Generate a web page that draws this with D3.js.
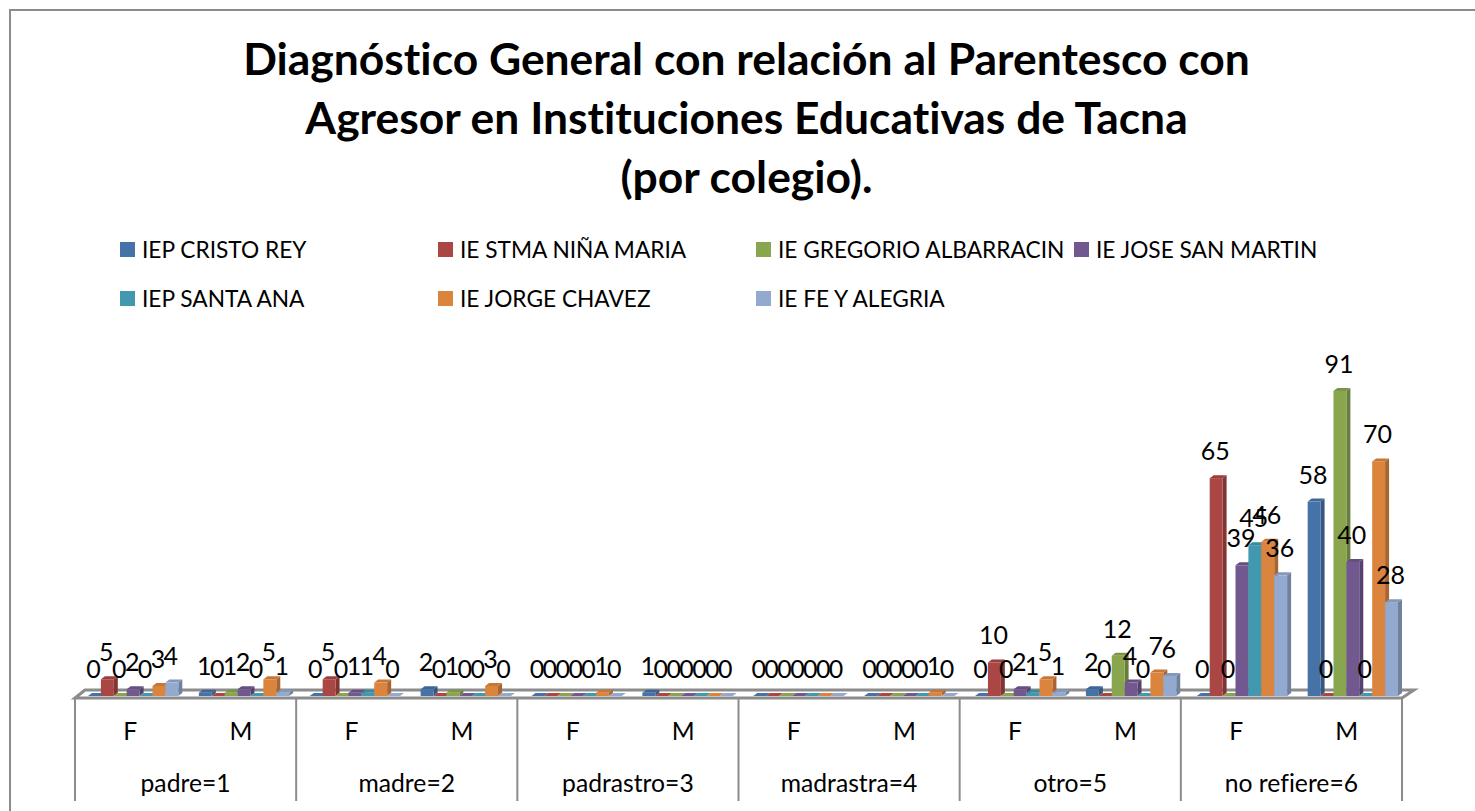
<!DOCTYPE html>
<html>
<head>
<meta charset="utf-8">
<script src="https://cdn.jsdelivr.net/npm/d3@7"></script>
<style>
  html, body { margin: 0; padding: 0; background: #fff; }
  text { font-family: Lato, Arial, sans-serif; fill: #000; font-variant-ligatures: none; }
</style>
</head>
<body>
<div id="chart"></div>
<script>
// ── Data
const titleLines = [
  'Diagnóstico General con relación al Parentesco con',
  'Agresor en Instituciones Educativas de Tacna',
  '(por colegio).'
];
const groups = ['padre=1', 'madre=2', 'padrastro=3', 'madrastra=4', 'otro=5', 'no refiere=6'];
const sexes = ['F', 'M'];
const schools = ['IEP CRISTO REY', 'IE STMA NIÑA MARIA', 'IE GREGORIO ALBARRACIN', 'IE JOSE SAN MARTIN',
                 'IEP SANTA ANA', 'IE JORGE CHAVEZ', 'IE FE Y ALEGRIA'];
const colors = ['#4572A7', '#AA4643', '#89A54E', '#71588F', '#4198AF', '#DB843D', '#93A9CF'];

const cristoRey   = [0, 1, 0, 2, 0, 1, 0, 0, 0, 2, 0, 58];
const ninaMaria   = [5, 0, 5, 0, 0, 0, 0, 0, 10, 0, 65, 0];
const albarracin  = [0, 1, 0, 1, 0, 0, 0, 0, 0, 12, 0, 91];
const sanMartin   = [2, 2, 1, 0, 0, 0, 0, 0, 2, 4, 39, 40];
const santaAna    = [0, 0, 1, 0, 0, 0, 0, 0, 1, 0, 45, 0];
const jorgeChavez = [3, 5, 4, 3, 1, 0, 0, 1, 5, 7, 46, 70];
const feYAlegria  = [4, 1, 0, 0, 0, 0, 0, 0, 1, 6, 36, 28];
const seriesValues = [cristoRey, ninaMaria, albarracin, sanMartin, santaAna, jorgeChavez, feYAlegria];

// ── Layout constants (1475×811 canvas)
const W = 1475, H = 811;
const AXIS_L = 75, AXIS_R = 1402;
const FLOOR_Y = 698, FLOOR_BACK_Y = 690;
const BASE_Y = 696;
const DEPTH_X = 4, DEPTH_Y = 3;
const GRAY = '#8c8c8c';

const categories = groups.flatMap(g => sexes.map(s => `${g}|${s}`));

// Axis table cells and bar slots run on slightly different steps in the original
const xAxis = d3.scaleBand().domain(categories).range([AXIS_L, AXIS_R]);
const xGroup = d3.scaleBand().domain(groups).range([AXIS_L, AXIS_R]);
const xCat = d3.scaleBand().domain(categories).range([71.5, 71.5 + 110.88 * 12]);
const xBar = d3.scaleBand().domain(d3.range(schools.length)).range([16.5, 16.5 + 90.3]);
const y = d3.scaleLinear().domain([0, 91]).range([BASE_Y, 391]);

const svg = d3.select('#chart').append('svg')
  .attr('width', W).attr('height', H)
  .style('display', 'block');

// ── Outer frame (the crop cuts off its right and bottom sides)
svg.append('path')
  .attr('d', `M10,${H}V10H${W}`)
  .attr('fill', 'none')
  .attr('stroke', GRAY)
  .attr('stroke-width', 2);

// ── Title
svg.append('g').selectAll('text')
  .data(titleLines)
  .enter().append('text')
  .attr('x', 746.5)
  .attr('y', (d, i) => 75 + i * 59)
  .attr('text-anchor', 'middle')
  .attr('font-size', '44.4px')
  .attr('font-weight', 700)
  .text(d => d);

// ── Legend
const legend = svg.append('g').selectAll('g')
  .data(schools)
  .enter().append('g')
  .attr('transform', (d, i) => `translate(${120 + (i % 4) * 318},${242 + Math.floor(i / 4) * 49})`);
legend.append('rect')
  .attr('width', 15).attr('height', 15)
  .attr('fill', (d, i) => colors[i]);
legend.append('text')
  .attr('x', 22).attr('y', 16)
  .attr('font-size', '22.7px')
  .text(d => d);

// ── Floor
svg.append('path')
  .attr('d', `M${AXIS_L},${FLOOR_Y}L85,${FLOOR_BACK_Y}H1414L${AXIS_R},${FLOOR_Y}Z`)
  .attr('fill', '#fff')
  .attr('stroke', GRAY)
  .attr('stroke-width', 3);

// ── Axis table
const table = svg.append('g');
table.selectAll('line')
  .data(d3.range(groups.length + 1))
  .enter().append('line')
  .attr('x1', i => AXIS_L + i * xGroup.step()).attr('x2', i => AXIS_L + i * xGroup.step())
  .attr('y1', FLOOR_Y).attr('y2', 801)
  .attr('stroke', GRAY)
  .attr('stroke-width', 2);
table.selectAll('.sex')
  .data(categories)
  .enter().append('text')
  .attr('class', 'sex')
  .attr('x', d => xAxis(d) + xAxis.bandwidth() / 2)
  .attr('y', 740)
  .attr('text-anchor', 'middle')
  .attr('font-size', '24.7px')
  .text(d => d.split('|')[1]);
table.selectAll('.group')
  .data(groups)
  .enter().append('text')
  .attr('class', 'group')
  .attr('x', d => xGroup(d) + xGroup.bandwidth() / 2)
  .attr('y', 792)
  .attr('text-anchor', 'middle')
  .attr('font-size', '24.7px')
  .text(d => d);

// ── 3D bars, left to right
const marks = [];
categories.forEach((c, ci) => {
  seriesValues.forEach((vals, si) => marks.push({ c, si, v: vals[ci] }));
});

const bars = svg.append('g').selectAll('g')
  .data(marks)
  .enter().append('g')
  .attr('transform', d => `translate(${xCat(d.c) + xBar(d.si)},0)`);

const bw = xBar.bandwidth();

// side face
bars.append('path')
  .attr('d', d => `M${bw},${y(d.v)}l${DEPTH_X},${-DEPTH_Y}V${BASE_Y - DEPTH_Y}l${-DEPTH_X},${DEPTH_Y}Z`)
  .attr('fill', d => d3.color(colors[d.si]).darker(0.75));
// top face
bars.append('path')
  .attr('d', d => `M0,${y(d.v)}l${DEPTH_X},${-DEPTH_Y}h${bw}l${-DEPTH_X},${DEPTH_Y}Z`)
  .attr('fill', d => d3.color(colors[d.si]).darker(d.v === 0 ? 0 : 0.3));
// front face
bars.append('rect')
  .attr('width', bw)
  .attr('y', d => y(d.v))
  .attr('height', d => BASE_Y - y(d.v))
  .attr('fill', d => colors[d.si]);

// ── Data labels (on top of every bar, they overlap in the original too)
svg.append('g').selectAll('text')
  .data(marks)
  .enter().append('text')
  .attr('x', d => xCat(d.c) + xBar(d.si) + bw / 2 - 1)
  .attr('y', d => y(d.v) - 18)
  .attr('text-anchor', 'middle')
  .attr('font-size', '25px')
  .text(d => d.v);
</script>
</body>
</html>
